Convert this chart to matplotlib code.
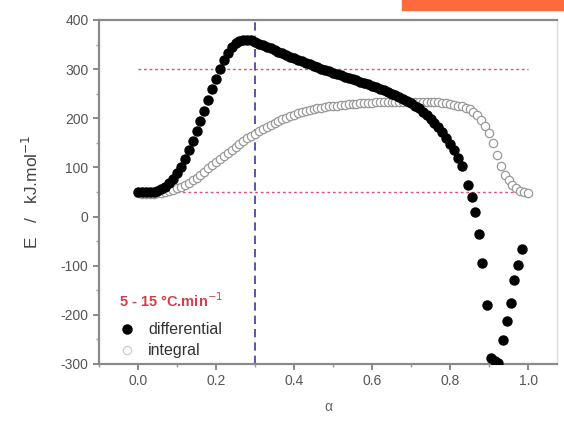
import numpy as np
import matplotlib
matplotlib.use('Agg')
import matplotlib.pyplot as plt
from matplotlib.patches import Rectangle
from matplotlib.ticker import MultipleLocator

plt.rcParams['font.family'] = ['Liberation Sans', 'DejaVu Sans']
plt.rcParams['axes.unicode_minus'] = False

# differential method (filled circles)
alpha_diff = [0.00, 0.01, 0.02, 0.03, 0.04, 0.05, 0.06, 0.07, 0.08, 0.09,
              0.10, 0.11, 0.12, 0.13, 0.14, 0.15, 0.16, 0.17, 0.18, 0.19,
              0.20, 0.21, 0.22, 0.23, 0.24, 0.25, 0.26, 0.27, 0.28, 0.29,
              0.30, 0.31, 0.32, 0.33, 0.34, 0.35, 0.36, 0.37, 0.38, 0.39,
              0.40, 0.41, 0.42, 0.43, 0.44, 0.45, 0.46, 0.47, 0.48, 0.49,
              0.50, 0.51, 0.52, 0.53, 0.54, 0.55, 0.56, 0.57, 0.58, 0.59,
              0.60, 0.61, 0.62, 0.63, 0.64, 0.65, 0.66, 0.67, 0.68, 0.69,
              0.70, 0.71, 0.72, 0.73, 0.74, 0.75, 0.76, 0.77, 0.78, 0.79,
              0.80, 0.81, 0.82, 0.83,
              0.845, 0.856, 0.864, 0.873, 0.883, 0.895, 0.905, 0.915, 0.922,
              0.935, 0.946, 0.955, 0.965, 0.975, 0.985]
E_diff = [50, 50, 50, 50, 51, 53, 56, 61, 68, 77,
          88, 101, 117, 135, 154, 174, 194, 215, 237, 259,
          280, 300, 318, 333, 345, 353, 358, 360, 360, 359,
          356, 352, 349, 345, 342, 338, 335, 332, 328, 325,
          322, 319, 316, 313, 310, 307, 304, 301, 298, 296,
          293, 290, 288, 285, 282, 280, 277, 274, 272, 269,
          266, 263, 260, 257, 254, 250, 247, 243, 239, 235,
          231, 226, 220, 213, 206, 199, 191, 182, 172, 160,
          148, 136, 120, 102,
          64, 40, 10, -35, -95, -180, -288, -294, -298,
          -251, -213, -176, -129, -99, -67]

# integral method (open circles)
alpha_int = [0.00, 0.01, 0.02, 0.03, 0.04, 0.05, 0.06, 0.07, 0.08, 0.09,
             0.10, 0.11, 0.12, 0.13, 0.14, 0.15, 0.16, 0.17, 0.18, 0.19,
             0.20, 0.21, 0.22, 0.23, 0.24, 0.25, 0.26, 0.27, 0.28, 0.29,
             0.30, 0.31, 0.32, 0.33, 0.34, 0.35, 0.36, 0.37, 0.38, 0.39,
             0.40, 0.41, 0.42, 0.43, 0.44, 0.45, 0.46, 0.47, 0.48, 0.49,
             0.50, 0.51, 0.52, 0.53, 0.54, 0.55, 0.56, 0.57, 0.58, 0.59,
             0.60, 0.61, 0.62, 0.63, 0.64, 0.65, 0.66, 0.67, 0.68, 0.69,
             0.70, 0.71, 0.72, 0.73, 0.74, 0.75, 0.76, 0.77, 0.78, 0.79,
             0.80, 0.81, 0.82, 0.83, 0.84, 0.85, 0.86, 0.87, 0.88, 0.89,
             0.90, 0.91, 0.92, 0.93, 0.94, 0.95, 0.96, 0.97, 0.98, 0.99,
             1.00]
E_int = [47, 46, 46, 46, 46, 47, 48, 50, 52, 55,
         58, 61, 65, 69, 74, 79, 85, 91, 98, 104,
         111, 117, 124, 130, 136, 142, 148, 153, 159, 164,
         169, 174, 178, 183, 187, 191, 195, 198, 201, 204,
         207, 210, 212, 214, 216, 218, 220, 221, 223, 224,
         225, 226, 227, 228, 229, 230, 230, 231, 231, 232,
         232, 233, 233, 233, 234, 234, 234, 234, 234, 234,
         234, 234, 234, 234, 234, 234, 233, 233, 232, 231,
         230, 228, 226, 224, 221, 218, 213, 206, 197, 185,
         170, 150, 125, 102, 85, 74, 65, 58, 53, 50,
         48]

fig = plt.figure(figsize=(5.64, 4.30), dpi=100)
ax = fig.add_axes([0.1755, 0.1535, 0.812, 0.80])

ax.plot([0.0, 1.0], [300, 300], ls=(0, (2, 2)), color='#e0507a', lw=1.0, zorder=1)
ax.plot([0.0, 1.0], [50, 50], ls=(0, (2, 2)), color='#e0507a', lw=1.0, zorder=1)
ax.axvline(0.3, ls=(0, (5, 3)), color='#3a3aa8', lw=1.2, zorder=1)

ax.plot(alpha_int, E_int, 'o', ms=6, mfc='white', mec='#999999', mew=0.9,
        label='integral', zorder=2)
ax.plot(alpha_diff, E_diff, 'o', ms=6.5, color='black', label='differential',
        zorder=3)

ax.set_xlim(-0.1, 1.074)
ax.set_ylim(-300, 400)
ax.xaxis.set_major_locator(MultipleLocator(0.2))
ax.xaxis.set_minor_locator(MultipleLocator(0.1))
ax.yaxis.set_major_locator(MultipleLocator(100))
ax.yaxis.set_minor_locator(MultipleLocator(50))
ax.xaxis.set_major_formatter(plt.FuncFormatter(lambda v, p: f'{v:.1f}'))

for s in ax.spines.values():
    s.set_color('#8a8a8a')
    s.set_linewidth(1.6)
ax.spines['right'].set_color('#dddddd')
ax.spines['right'].set_linewidth(1.0)

ax.tick_params(which='major', direction='out', length=4, width=1.2,
               color='#777777', labelcolor='#555555', labelsize=10)
ax.tick_params(which='minor', direction='out', length=2, width=1.0,
               color='#999999')
ax.tick_params(top=False, right=False, which='both')

ax.set_xlabel('α', color='#666666', fontsize=10, labelpad=8)
ax.set_ylabel('E   /   kJ.mol$^{-1}$', color='#444444', fontsize=12.5,
              labelpad=14)

handles, labels = ax.get_legend_handles_labels()
leg = ax.legend(handles[::-1], labels[::-1], loc='upper left',
                bbox_to_anchor=(0.02, 0.245), frameon=False, fontsize=11.5,
                title='5 - 15 °C.min$^{-1}$', title_fontsize=10.5,
                handlelength=1.0, handletextpad=0.8, labelspacing=0.4,
                borderpad=0.2)
leg.get_title().set_color('#d0404a')
leg.get_title().set_fontweight('bold')
leg._legend_box.align = 'left'
leg._legend_box.sep = 9
for t in leg.get_texts():
    t.set_color('#333333')
leg.legend_handles[1].set_markeredgecolor('#cccccc')

fig.patches.append(Rectangle((402 / 564, 1 - 10 / 430), 162 / 564, 10 / 430,
                             transform=fig.transFigure, color='#ff6a3d',
                             zorder=0))

fig.savefig('out.png', dpi=100)
